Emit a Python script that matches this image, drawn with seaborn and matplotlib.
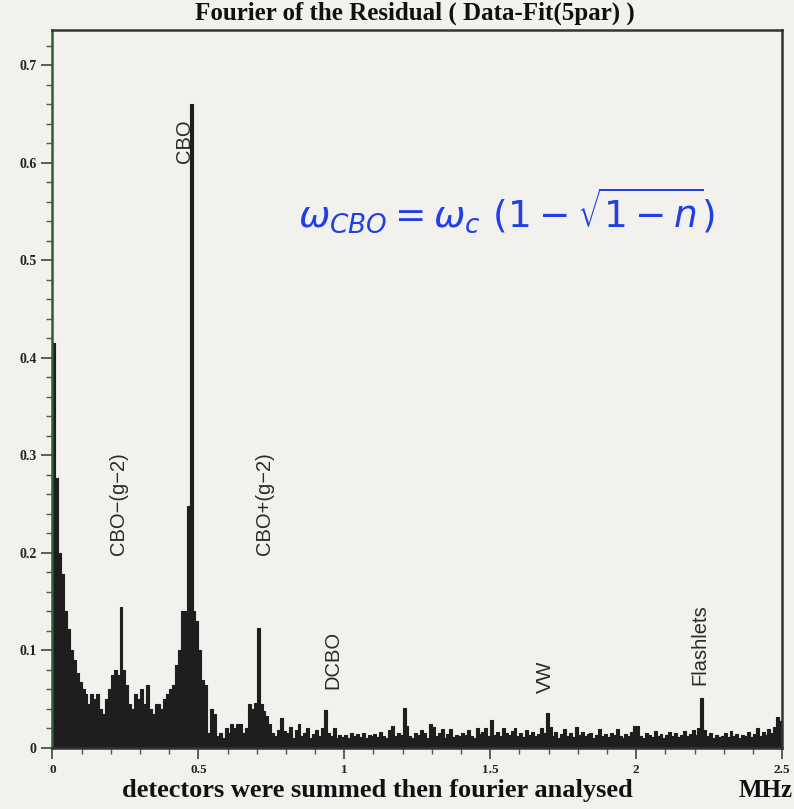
import matplotlib
matplotlib.use("Agg")
import matplotlib.pyplot as plt
from matplotlib.ticker import MultipleLocator

import seaborn as sns
import pandas as pd
import numpy as np

# Spectrum amplitudes, one value per 0.01 MHz bin (0.00 .. 2.49 MHz)
amp = [
    0.415, 0.277, 0.200, 0.178, 0.140, 0.122, 0.100, 0.090, 0.077, 0.068,  # 0.0
    0.060, 0.055, 0.045, 0.055, 0.050, 0.055, 0.040, 0.035, 0.050, 0.060,  # 0.1
    0.075, 0.080, 0.075, 0.145, 0.080, 0.065, 0.045, 0.040, 0.055, 0.050,  # 0.2
    0.060, 0.045, 0.065, 0.040, 0.035, 0.045, 0.045, 0.040, 0.050, 0.055,  # 0.3
    0.060, 0.065, 0.085, 0.100, 0.140, 0.140, 0.248, 0.660, 0.140, 0.130,  # 0.4
    0.100, 0.070, 0.065, 0.015, 0.040, 0.035, 0.012, 0.015, 0.010, 0.020,  # 0.5
    0.015, 0.025, 0.020, 0.025, 0.025, 0.015, 0.020, 0.045, 0.040, 0.046,  # 0.6
    0.123, 0.045, 0.038, 0.033, 0.025, 0.015, 0.012, 0.018, 0.031, 0.017,  # 0.7
    0.015, 0.022, 0.010, 0.018, 0.025, 0.012, 0.015, 0.020, 0.010, 0.014,  # 0.8
    0.018, 0.012, 0.020, 0.039, 0.015, 0.012, 0.020, 0.010, 0.013, 0.011,  # 0.9
    0.013, 0.010, 0.015, 0.012, 0.014, 0.011, 0.015, 0.010, 0.013, 0.012,  # 1.0
    0.014, 0.011, 0.016, 0.012, 0.010, 0.018, 0.023, 0.012, 0.015, 0.013,  # 1.1
    0.041, 0.023, 0.012, 0.010, 0.015, 0.013, 0.018, 0.015, 0.010, 0.025,  # 1.2
    0.022, 0.012, 0.015, 0.019, 0.010, 0.014, 0.019, 0.011, 0.013, 0.012,  # 1.3
    0.015, 0.013, 0.018, 0.012, 0.010, 0.020, 0.014, 0.016, 0.020, 0.012,  # 1.4
    0.029, 0.013, 0.016, 0.012, 0.020, 0.015, 0.013, 0.017, 0.020, 0.012,  # 1.5
    0.015, 0.011, 0.018, 0.013, 0.016, 0.012, 0.014, 0.020, 0.015, 0.036,  # 1.6
    0.022, 0.012, 0.016, 0.010, 0.014, 0.019, 0.012, 0.015, 0.011, 0.022,  # 1.7
    0.013, 0.016, 0.012, 0.014, 0.015, 0.010, 0.013, 0.019, 0.012, 0.014,  # 1.8
    0.011, 0.015, 0.013, 0.019, 0.012, 0.010, 0.014, 0.012, 0.016, 0.023,  # 1.9
    0.023, 0.012, 0.010, 0.015, 0.013, 0.011, 0.017, 0.012, 0.014, 0.010,  # 2.0
    0.013, 0.016, 0.012, 0.015, 0.011, 0.013, 0.017, 0.012, 0.014, 0.018,  # 2.1
    0.013, 0.020, 0.051, 0.018, 0.012, 0.015, 0.010, 0.013, 0.011, 0.012,  # 2.2
    0.015, 0.011, 0.017, 0.012, 0.014, 0.010, 0.013, 0.012, 0.016, 0.011,  # 2.3
    0.014, 0.020, 0.012, 0.016, 0.013, 0.019, 0.015, 0.022, 0.032, 0.028,  # 2.4
]
bin_width = 0.01
freq = [(i + 0.5) * bin_width for i in range(len(amp))]

# Peak annotations: label, frequency (MHz), height of label bottom
peak_labels = ["CBO", "CBO\u2212(g\u22122)", "CBO+(g\u22122)", "DCBO", "VW", "Flashlets"]
peak_freqs = [0.452, 0.228, 0.726, 0.962, 1.69, 2.22]
peak_label_y = [0.600, 0.198, 0.198, 0.060, 0.056, 0.065]

yticks = [0, 0.1, 0.2, 0.3, 0.4, 0.5, 0.6, 0.7]
ytick_labels = ["0", "0.1", "0.2", "0.3", "0.4", "0.5", "0.6", "0.7"]
xticks = [0, 0.5, 1, 1.5, 2, 2.5]
xtick_labels = ["0", "0.5", "1", "1.5", "2", "2.5"]

df = pd.DataFrame({"freq": freq, "amp": amp})

sns.set_theme(style="ticks")
paper = "#f3f1ee"
ink = "#1e1e1e"
plt.rcParams["font.family"] = ["DejaVu Sans"]

fig = plt.figure(figsize=(7.94, 8.09), dpi=100, facecolor=paper)
ax = fig.add_axes([0.066, 0.0754, 0.919, 0.8876])
ax.set_facecolor(paper)

sns.histplot(data=df, x="freq", weights="amp", binwidth=bin_width, binrange=(0, 2.5),
             element="step", fill=True, color=ink, alpha=1, linewidth=0.8, ax=ax)

ax.set_xlim(0, 2.5)
ax.set_ylim(0, 0.736)
ax.set_ylabel("")
ax.set_xlabel("")

serif_bold = dict(family="Liberation Serif", weight="bold")
ax.set_yticks(yticks, ytick_labels, fontsize=10, **serif_bold)
ax.set_xticks(xticks, xtick_labels, fontsize=9.5, **serif_bold)
ax.yaxis.set_minor_locator(MultipleLocator(0.02))
ax.xaxis.set_minor_locator(MultipleLocator(0.1))
ax.tick_params(axis="both", which="major", direction="out", length=8, width=1.2,
               color="#444444", labelcolor="#222222")
ax.tick_params(axis="both", which="minor", direction="out", length=4, width=1.0, color="#555555")

for side in ["top", "right", "bottom"]:
    ax.spines[side].set_color("#333333")
    ax.spines[side].set_linewidth(1.8)
ax.spines["left"].set_color("#2f5f2f")
ax.spines["left"].set_linewidth(1.8)

for lab, f, yb in zip(peak_labels, peak_freqs, peak_label_y):
    ax.text(f, yb, lab, rotation=90, ha="center", va="bottom", fontsize=14.5,
            color="#2a2a2a", family="Liberation Sans")

# handwritten note
ax.text(1.555, 0.551, r"$\omega_{CBO} = \omega_c\ (1 - \sqrt{1-n})$",
        ha="center", va="center", fontsize=27, color="#1f3fe8")

fig.text(0.523, 0.984, "Fourier of the Residual ( Data-Fit(5par) )",
         ha="center", va="center", fontsize=18, color="#111111", **serif_bold)
fig.text(0.475, 0.023, "detectors were summed then fourier analysed",
         ha="center", va="center", fontsize=19, color="#111111", **serif_bold)
fig.text(0.964, 0.023, "MHz", ha="center", va="center", fontsize=18,
         color="#111111", **serif_bold)

fig.savefig("out.png", dpi=100, facecolor=paper)
